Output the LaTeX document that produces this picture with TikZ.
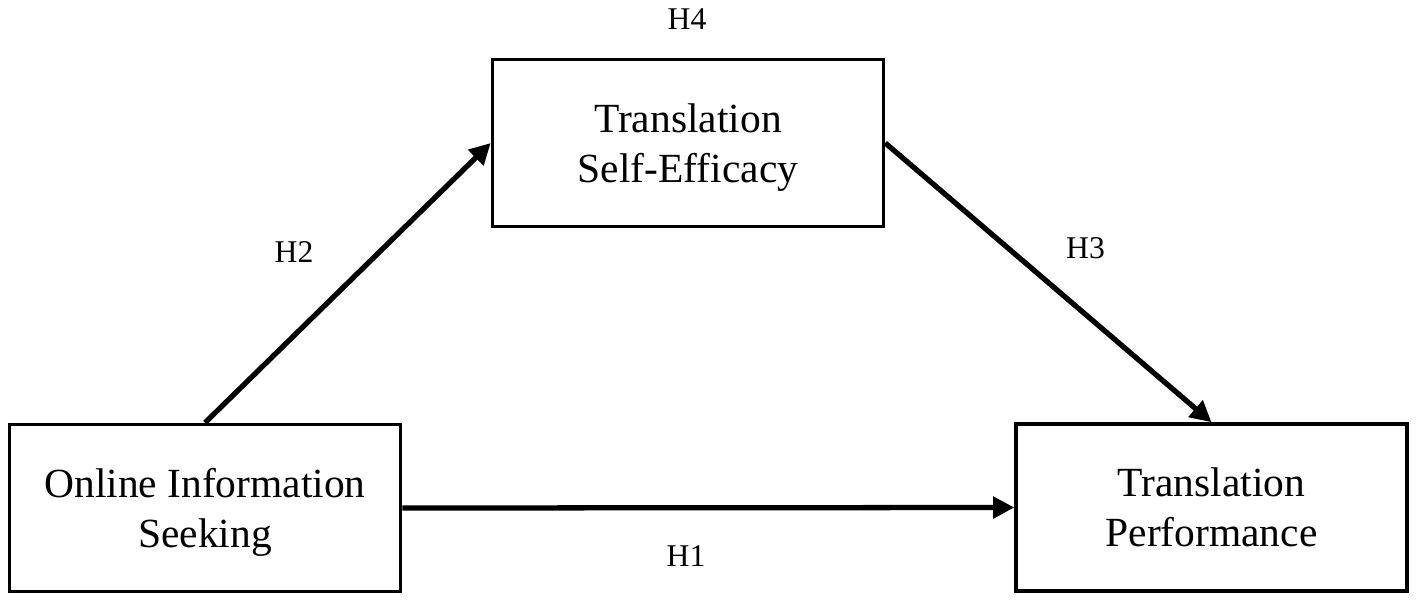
\documentclass[tikz,border=0pt]{standalone}
\usepackage{fontspec}
\setmainfont{Liberation Serif}
\usetikzlibrary{arrows.meta}
\tikzset{
    varbox/.style={draw, line width=1pt, minimum width=3.91cm, minimum height=1.67cm, align=center, text depth=0pt, font=\fontsize{11.8}{14.2}\selectfont},
    hyp/.style={font=\fontsize{9}{11}\selectfont},
    causal/.style={-{Triangle[length=6pt,width=6pt]}, line width=1.5pt}
}
\begin{document}
\begin{tikzpicture}
    \useasboundingbox (0,0) rectangle (14.17,6.02);
    \node[varbox] (seeking) at (2.05,0.94) {Online Information\\Seeking};
    \node[varbox] (efficacy) at (6.88,4.59) {Translation\\Self-Efficacy};
    \node[varbox] (performance) at (12.115,0.945) {Translation\\Performance};

    \draw[causal] (seeking.north) -- (efficacy.west);
    \draw[causal] (efficacy.east) -- (performance.north);
    \draw[causal] (seeking.east) -- (performance.west);

    \node[hyp] (h4) at (6.87,5.83) {H4};
    \node[hyp] (h2) at (2.94,3.50) {H2};
    \node[hyp] (h3) at (10.855,3.535) {H3};
    \node[hyp] (h1) at (6.86,0.46) {H1};
\end{tikzpicture}
\end{document}
